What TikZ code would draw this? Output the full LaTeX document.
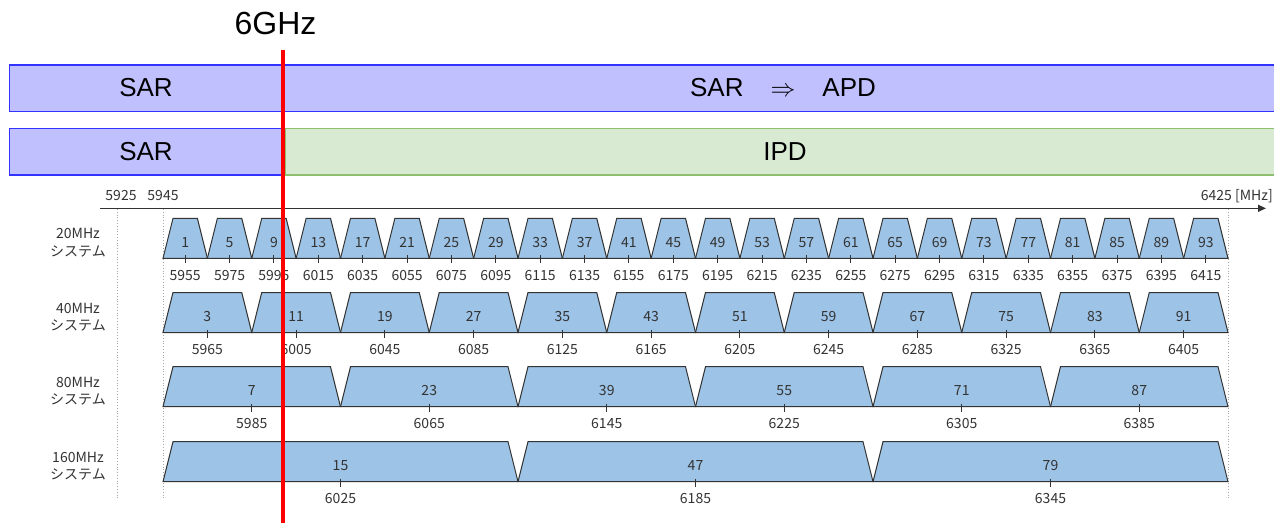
\documentclass[tikz,border=0pt]{standalone}
\usepackage{fontspec}
\setmainfont{Liberation Sans}
\newfontfamily\jp{Noto Sans CJK JP}
\usetikzlibrary{arrows.meta}
\definecolor{lav}{HTML}{C0C0FF}
\definecolor{lavb}{HTML}{3333FF}
\definecolor{grn}{HTML}{D9EAD3}
\definecolor{grnb}{HTML}{8CBF6E}
\definecolor{chan}{HTML}{9DC3E6}
\definecolor{ink}{HTML}{333333}
\begin{document}
\begin{tikzpicture}[x=1pt,y=-1pt,
  bigtxt/.style={font=\fontsize{26}{30}\selectfont, text=black, inner sep=0pt},
  small/.style={font=\jp\fontsize{14}{17.5}\selectfont, text=ink, inner sep=0pt, text height=10.2pt, text depth=0pt},
  rowlab/.style={font=\jp\fontsize{14}{17.5}\selectfont, text=ink, inner sep=0pt, align=center},
  chanbox/.style={fill=chan, draw=ink, line width=1pt, line join=miter},
  tickmark/.style={draw=ink, line width=1pt},
  guide/.style={draw=gray!70, dotted, line width=0.8pt},
  lavbar/.style={fill=lav, draw=lavb, line width=1.5pt},
  grnbar/.style={fill=grn, draw=grnb, line width=1.5pt},
]
\useasboundingbox (0,0) rectangle (1274,523);
\clip (0,0) rectangle (1274,523);

% top bars
\draw[lavbar] (9.5,65) rectangle (1290,111.5);
\draw[lavbar] (9.5,128.7) rectangle (284,175);
\draw[grnbar] (285,128.7) rectangle (1290,175);
\node[bigtxt] (sar1) at (146,88) {SAR};
\node[bigtxt] (sarapd) at (783,88) {SAR\hspace{27pt}$\Rightarrow$\hspace{27pt}APD};
\node[bigtxt] (sar2) at (146,151.5) {SAR};
\node[bigtxt] (ipd) at (785,151.5) {IPD};

% axis
\coordinate (axL) at (100,208.3);
\coordinate (axR) at (1266,208.3);
\draw[ink, line width=1.4pt, -{Triangle[length=8pt,width=7pt]}] (axL) -- (axR);
\node[small] (l5925) at (121,195) {5925};
\node[small] (l5945) at (163,195) {5945};
\node[small, anchor=east] (l6425) at (1273,195) {6425 [MHz]};

% guides
\draw[guide] (117,209) -- (117,498);
\draw[guide] (163,209) -- (163,498);
\draw[guide] (1228,209) -- (1228,498);

% channel rows
\foreach \bw/\bot/\n/\nm in {20/258.3/24/a, 40/332.5/12/b, 80/406.7/6/c, 160/481.7/3/d} {
  \node[rowlab] (lab\nm) at (78,\bot-15.5) {\bw MHz\\システム};
  \foreach \k in {1,...,\n} {
    \pgfmathsetmacro\fc{5945+\bw*(\k-0.5)}
    \pgfmathtruncatemacro\ch{(\fc-5950)/5}
    \pgfmathtruncatemacro\fl{\fc}
    \pgfmathsetmacro\cx{163+(\fc-5945)*2.21875}
    \pgfmathsetmacro\hw{\bw*2.21875/2}
    \draw[chanbox] (\cx-\hw,\bot) -- (\cx-\hw+10,\bot-40) -- (\cx+\hw-10,\bot-40) -- (\cx+\hw,\bot) -- cycle;
    \draw[tickmark] (\cx,\bot-3) -- (\cx,\bot+5);
    \node[small] (ch\nm\k) at (\cx,\bot-16) {\ch};
    \node[small] (f\nm\k) at (\cx,\bot+17) {\fl};
  }
}

% 6GHz marker
\node[font=\fontsize{32}{36}\selectfont, inner sep=0pt] (ghz) at (275.5,23.5) {6GHz};
\draw[red, line width=4.5pt] (283,50) -- (283,523);
\end{tikzpicture}
\end{document}
